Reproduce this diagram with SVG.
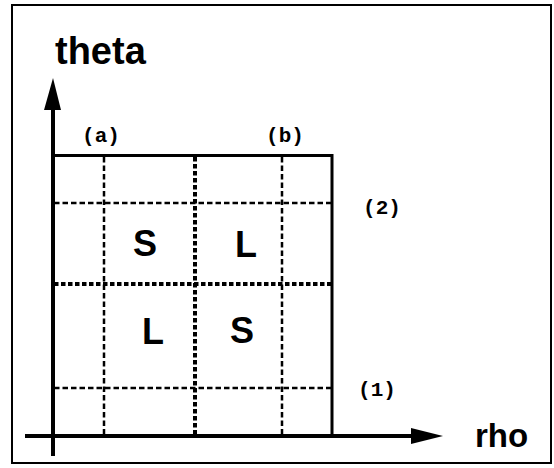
<svg xmlns="http://www.w3.org/2000/svg" width="554" height="468" viewBox="0 0 554 468">
<style>
.frame{fill:none;stroke:#000;stroke-width:2}
.axis{stroke:#000;stroke-width:4;fill:none}
.box{stroke:#000;stroke-width:3;fill:none}
.thin{stroke:#000;stroke-width:2.5;stroke-dasharray:5.5 3;fill:none}
.thick{stroke:#000;stroke-width:4;stroke-dasharray:4.5 2.5;fill:none}
.big{font-family:"Liberation Sans",Arial,sans-serif;font-weight:bold;fill:#000}
.mono{font-family:"Liberation Mono","Courier New",monospace;font-weight:bold;font-size:21px;fill:#000}
</style>
<rect class="frame" x="12" y="5" width="539" height="458"/>
<g id="grid">
<line class="thin" x1="54" y1="203" x2="332" y2="203"/>
<line class="thin" x1="54" y1="388" x2="332" y2="388"/>
<line class="thin" x1="104" y1="157" x2="104" y2="435"/>
<line class="thin" x1="282" y1="157" x2="282" y2="435"/>
<line class="thick" x1="54" y1="284" x2="332" y2="284"/>
<line class="thick" x1="195" y1="157" x2="195" y2="436"/>
</g>
<g id="box">
<polyline class="box" points="52,155.5 332,155.5 332,436"/>
</g>
<g id="axes">
<line class="axis" x1="53" y1="100" x2="53" y2="456"/>
<polygon points="53,78 44,110 61,110" fill="#000"/>
<line class="axis" x1="25" y1="436" x2="420" y2="436"/>
<polygon points="443,436 411,428 411,444" fill="#000"/>
</g>
<g id="labels">
<text class="big" x="55" y="64" font-size="38">theta</text>
<text class="big" x="475" y="447" font-size="33">rho</text>
<text class="mono" x="101" y="142" text-anchor="middle">(a)</text>
<text class="mono" x="285" y="142" text-anchor="middle">(b)</text>
<text class="mono" x="382" y="214" text-anchor="middle">(2)</text>
<text class="mono" x="377" y="396" text-anchor="middle">(1)</text>
<text class="big" x="145" y="256" font-size="36" text-anchor="middle">S</text>
<text class="big" x="246" y="257" font-size="36" text-anchor="middle">L</text>
<text class="big" x="153" y="344" font-size="36" text-anchor="middle">L</text>
<text class="big" x="242" y="343" font-size="36" text-anchor="middle">S</text>
</g>
</svg>
